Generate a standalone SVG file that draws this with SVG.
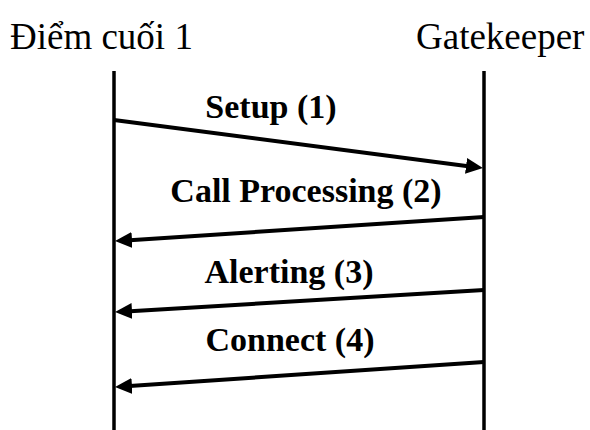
<svg xmlns="http://www.w3.org/2000/svg" width="590" height="430" viewBox="0 0 590 430">
  <style>
    .head { font-family: "Liberation Serif", "Times New Roman", serif; font-size: 37px; fill: #000; }
    .msg { font-family: "Liberation Serif", "Times New Roman", serif; font-size: 34px; font-weight: bold; fill: #000; text-anchor: middle; }
    .life { stroke: #000; stroke-width: 3.5; fill: none; }
    .arrow { stroke: #000; stroke-width: 4; fill: none; marker-end: url(#tip); }
  </style>
  <defs>
    <marker id="tip" markerUnits="userSpaceOnUse" markerWidth="18" markerHeight="18" refX="6" refY="8" orient="auto" viewBox="0 0 18 16">
      <path d="M0,0 L17,8 L0,16 Z" fill="#000"/>
    </marker>
  </defs>
  <rect width="590" height="430" fill="#fff"/>

  <!-- endpoint lifeline -->
  <g id="endpoint">
    <text class="head" x="10" y="49">Điểm cuối 1</text>
    <line class="life" x1="114" y1="71" x2="114" y2="430"/>
  </g>

  <!-- gatekeeper lifeline -->
  <g id="gatekeeper">
    <text class="head" x="416" y="49">Gatekeeper</text>
    <line class="life" x1="484" y1="71" x2="484" y2="430"/>
  </g>

  <!-- messages -->
  <g id="connectors">
    <line class="arrow" x1="114" y1="120" x2="472" y2="166.7"/>
    <line class="arrow" x1="484" y1="217" x2="126" y2="240.4"/>
    <line class="arrow" x1="484" y1="290" x2="126" y2="311.4"/>
    <line class="arrow" x1="484" y1="362" x2="126" y2="386.3"/>
  </g>

  <g id="labels">
    <text class="msg" x="271" y="118">Setup (1)</text>
    <text class="msg" x="306" y="202">Call Processing (2)</text>
    <text class="msg" x="289" y="283">Alerting (3)</text>
    <text class="msg" x="290" y="351">Connect (4)</text>
  </g>
</svg>
